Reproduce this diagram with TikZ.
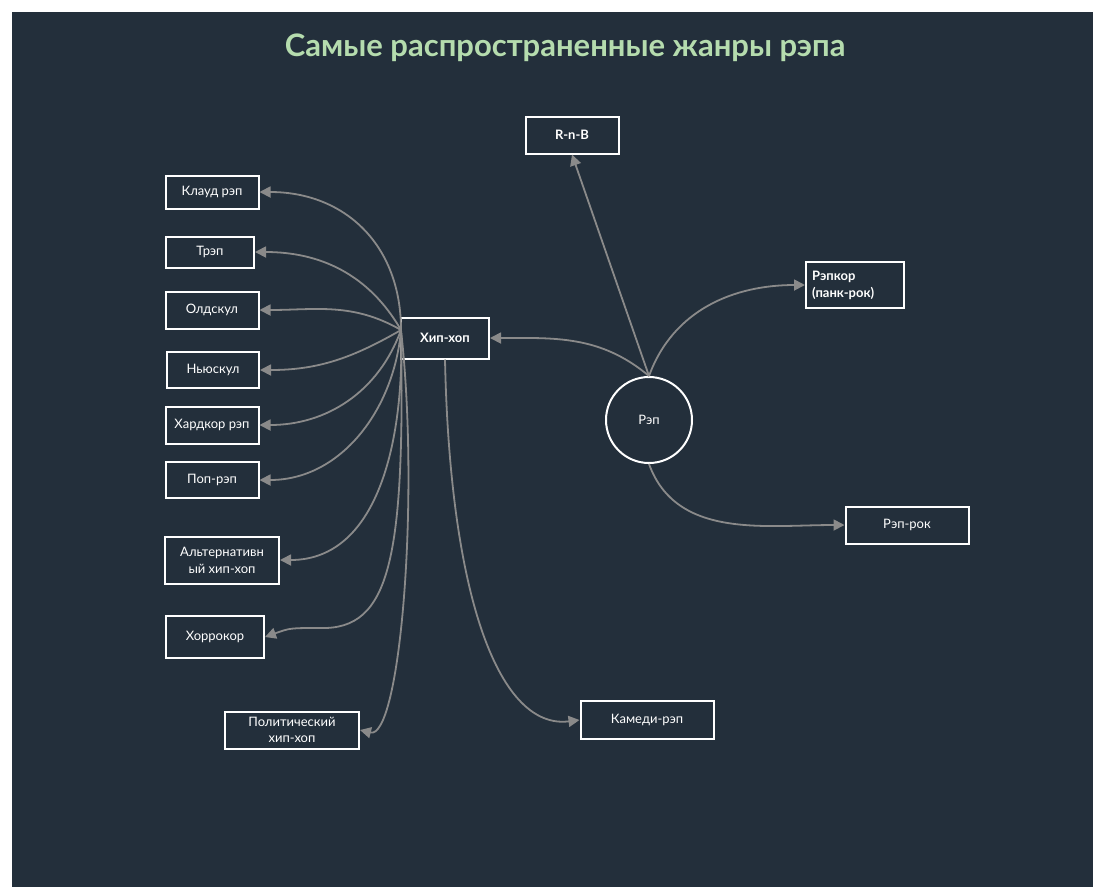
\documentclass[tikz,border=0pt]{standalone}
\usepackage{fontspec}
\setmainfont{Lato}
\usetikzlibrary{arrows.meta}
\definecolor{bgdark}{HTML}{232F3B}
\definecolor{titlegreen}{HTML}{B5DCAE}
\definecolor{edgegray}{HTML}{8A8A8A}
\tikzset{
  x=1pt, y=-1pt,
  genre/.style={draw=white, line width=2pt, text=white, font=\fontsize{13}{17}\selectfont, align=center, inner sep=2pt},
  link/.style={draw=edgegray, line width=1.8pt, -{Triangle[length=11pt,width=11pt]}},
}
\begin{document}
\begin{tikzpicture}
  % frame
  \useasboundingbox (0,0) rectangle (1105,895);
  \fill[white] (0,0) rectangle (1105,895);
  \fill[bgdark] (12,12) rectangle (1093,887);
  \node[text=titlegreen, font=\fontsize{31}{36}\selectfont\bfseries] (title) at (565,48) {Самые распространенные жанры рэпа};

  % nodes
  \node[genre, minimum width=93, minimum height=37, font=\fontsize{13}{17}\selectfont\bfseries] (rnb) at (572,135) {R-n-B};
  \node[genre, minimum width=93, minimum height=33] (cloud) at (212,192) {Клауд рэп};
  \node[genre, minimum width=88, minimum height=31] (trap) at (210,252) {Трэп};
  \node[genre, minimum width=93, minimum height=37] (old) at (212,310) {Олдскул};
  \node[genre, minimum width=92, minimum height=36] (new) at (213,370) {Ньюскул};
  \node[genre, minimum width=93, minimum height=37, inner sep=1pt] (hard) at (212,425) {Хардкор рэп};
  \node[genre, minimum width=93, minimum height=36] (pop) at (212,480) {Поп-рэп};
  \node[genre, minimum width=114, minimum height=47, inner sep=1pt] (alt) at (222,560) {Альтернативн\\ый хип-хоп};
  \node[genre, minimum width=98, minimum height=42] (horror) at (215,637) {Хоррокор};
  \node[genre, minimum width=134, minimum height=37, inner sep=1pt, font=\fontsize{13}{16}\selectfont] (polit) at (292,730) {Политический\\хип-хоп};
  \node[genre, minimum width=88, minimum height=41, font=\fontsize{13}{17}\selectfont\bfseries] (hiphop) at (445,338) {Хип-хоп};
  \node[genre, circle, minimum size=86] (rap) at (649,420) {Рэп};
  \node[genre, minimum width=98, minimum height=46, align=left, font=\fontsize{13}{17}\selectfont\bfseries, text width=86, inner sep=4pt] (rapcore) at (855,285) {Рэпкор\\(панк-рок)};
  \node[genre, minimum width=123, minimum height=37] (raprock) at (907,525) {Рэп-рок};
  \node[genre, minimum width=133, minimum height=38] (comedy) at (647,720) {Камеди-рэп};

  % links
  \coordinate (hub) at (401,330);
  \draw[link] (hub) to[out=90, in=0, looseness=1.1] (cloud.east);
  \draw[link] (hub) to[out=120, in=0] (trap.east);
  \draw[link] (hub) to[out=150, in=0] (old.east);
  \draw[link] (hub) to[out=-150, in=0] (new.east);
  \draw[link] (hub) to[out=-110, in=0] (hard.east);
  \draw[link] (hub) to[out=-95, in=0] (pop.east);
  \draw[link] (hub) to[out=-88, in=0] (alt.east);
  \draw[link] (hub) .. controls (405,560) and (390,630) .. (320,628) .. controls (290,628) .. (horror.east);
  \draw[link] (hub) .. controls (420,500) and (400,740) .. (polit.east);
  \draw[link] (hiphop.south) .. controls (450,600) and (500,730) .. (comedy.west);
  \draw[link] (rap.north) to[out=140, in=0] (hiphop.east);
  \draw[link] (rap.north) -- (rnb.south);
  \draw[link] (rap.north) to[out=70, in=180] (rapcore.west);
  \draw[link] (rap.south) to[out=-70, in=180] (raprock.west);
\end{tikzpicture}
\end{document}
